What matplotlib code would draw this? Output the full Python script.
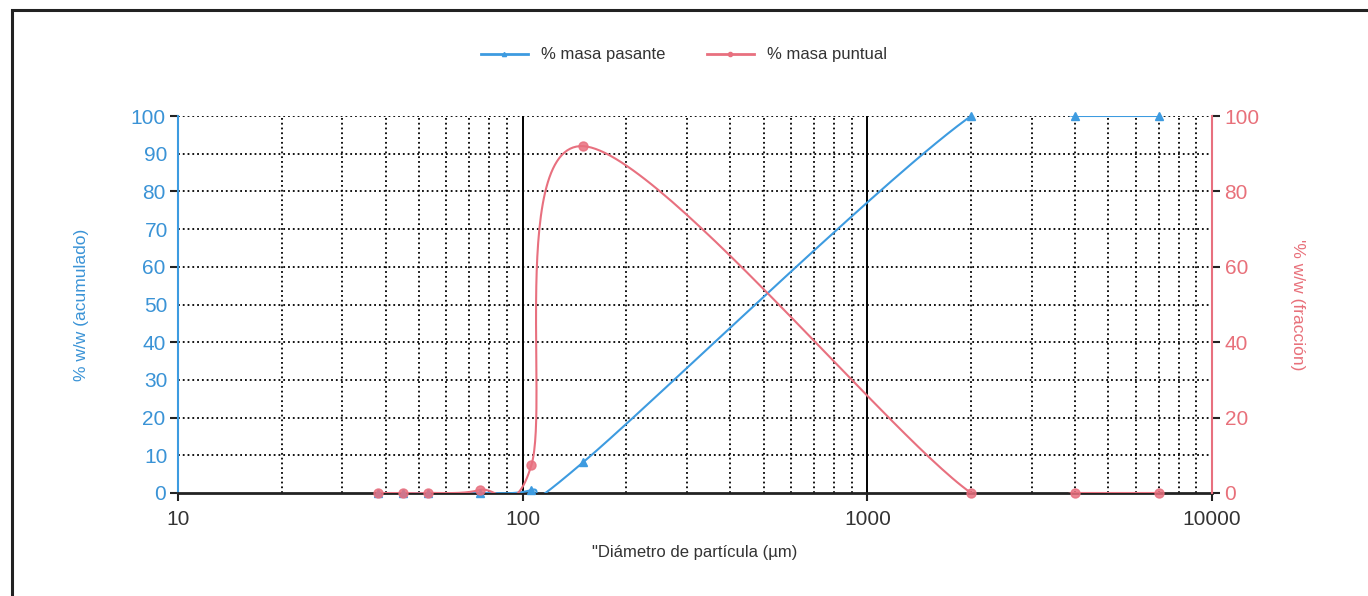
import numpy as np
import matplotlib
matplotlib.use('Agg')
import matplotlib.pyplot as plt
from matplotlib.lines import Line2D
from matplotlib.patches import Rectangle
from matplotlib.ticker import NullFormatter, FixedLocator

plt.rcParams['font.family'] = ['Liberation Sans', 'DejaVu Sans']

# sieve sizes (um) and results
sizes = [38, 45, 53, 75, 106, 150, 2000, 4000, 7000]
pasante = [0, 0, 0, 0, 0.8, 8.2, 100, 100, 100]
puntual = [0, 0, 0, 0.8, 7.4, 92, 0, 0, 0]

blue = '#3d9be0'
pink = '#e8707f'
blue_txt = '#3a93d6'
pink_txt = '#e8707a'


def smooth(xs, ys, n=60):
    # excel-like smoothed line: bezier segments, control points from neighbours
    lx = np.log10(xs)
    y = np.asarray(ys, float)
    px = np.concatenate([[lx[0]], lx, [lx[-1]]])
    py = np.concatenate([[y[0]], y, [y[-1]]])
    outx, outy = [], []
    t = np.linspace(0, 1, n)
    for i in range(1, len(px) - 2):
        x0, y0 = px[i], py[i]
        x3, y3 = px[i + 1], py[i + 1]
        x1 = x0 + (px[i + 1] - px[i - 1]) / 6
        y1 = y0 + (py[i + 1] - py[i - 1]) / 6
        x2 = x3 - (px[i + 2] - px[i]) / 6
        y2 = y3 - (py[i + 2] - py[i]) / 6
        bx = (1-t)**3*x0 + 3*(1-t)**2*t*x1 + 3*(1-t)*t**2*x2 + t**3*x3
        by = (1-t)**3*y0 + 3*(1-t)**2*t*y1 + 3*(1-t)*t**2*y2 + t**3*y3
        outx.extend(bx)
        outy.extend(by)
    return 10**np.array(outx), np.array(outy)


fig = plt.figure(figsize=(13.68, 5.96), dpi=100)
# outer frame (bottom and right run off the picture)
fig.patches.append(Rectangle((12/1368, -0.1), 1.2, 1.1 - 10/596,
                             transform=fig.transFigure, fill=False, ec='#222222', lw=2.2))

ax = fig.add_axes([178/1368, 1 - 493/596, (1212 - 178)/1368, (493 - 116)/596])
ax2 = ax.twinx()

ax.set_xscale('log')
ax.set_xlim(10, 10000)
ax.set_ylim(0, 100)
ax2.set_ylim(0, 100)

# grid
ax.xaxis.set_minor_locator(FixedLocator([m*10**d for d in range(1, 4) for m in range(2, 10)]))
ax.xaxis.set_minor_formatter(NullFormatter())
ax.grid(which='minor', axis='x', color='black', ls=':', lw=1.3)
for v in [100, 1000]:
    ax.axvline(v, color='black', lw=1.4, zorder=1)
for v in range(10, 101, 10):
    ax.axhline(v, color='black', ls=':', lw=1.3, zorder=1)

# spines
ax.spines['top'].set_visible(False)
ax2.spines['top'].set_visible(False)
ax.spines['bottom'].set_color('#222222')
ax.spines['bottom'].set_linewidth(2)
ax2.spines['bottom'].set_visible(False)
ax.spines['left'].set_color(blue)
ax.spines['left'].set_linewidth(1.5)
ax.spines['right'].set_visible(False)
ax2.spines['left'].set_visible(False)
ax2.spines['right'].set_color(pink)
ax2.spines['right'].set_linewidth(1.5)

# ticks
ax.set_xticks([10, 100, 1000, 10000])
ax.set_xticklabels(['10', '100', '1000', '10000'])
ax.tick_params(axis='x', which='major', length=6, width=1.5, color='#222222',
               labelsize=15, labelcolor='#333333', pad=6)
ax.tick_params(axis='x', which='minor', length=0)

ax.set_yticks([0, 20, 40, 60, 80, 100])
ax.set_yticks([10, 30, 50, 70, 90], minor=True)
ax.set_yticklabels(['0', '20', '40', '60', '80', '100'])
ax.set_yticklabels(['10', '30', '50', '70', '90'], minor=True)
ax.tick_params(axis='y', which='major', length=6, width=1.5, color='#222222',
               labelsize=15, labelcolor=blue_txt, pad=3)
ax.tick_params(axis='y', which='minor', length=0, labelsize=15,
               labelcolor=blue_txt, pad=3 + 6*0.72)

ax2.set_yticks([0, 20, 40, 60, 80, 100])
ax2.tick_params(axis='y', length=6, width=1.5, color='#222222',
                labelsize=15, labelcolor=pink_txt, pad=3)

# curves
bx, by = smooth(sizes, pasante)
px, py = smooth(sizes, puntual)
ax2.plot(bx, by, color=blue, lw=1.5, zorder=3)
ax2.plot(sizes, pasante, ls='none', marker='^', ms=6, color=blue, clip_on=False, zorder=4)
ax2.plot(px, py, color=pink, lw=1.5, zorder=3)
ax2.plot(sizes, puntual, ls='none', marker='o', ms=6.5, color=pink, alpha=0.85,
         clip_on=False, zorder=5)

# labels
ax.set_xlabel('"Diámetro de partícula (µm)', fontsize=12, color='#333333', labelpad=12)
ax.set_ylabel('% w/w (acumulado)', fontsize=12.5, color=blue_txt, labelpad=30)
ax2.set_ylabel("'% w/w (fracción)", fontsize=12.5, color=pink_txt, rotation=270, labelpad=33)

handles = [Line2D([], [], color=blue, lw=2, marker='^', ms=3),
           Line2D([], [], color=pink, lw=2, marker='o', ms=3)]
fig.legend(handles, ['% masa pasante', '% masa puntual'], loc='center',
           bbox_to_anchor=(0.5, 1 - 55/596), ncol=2, frameon=False, fontsize=12,
           handlelength=2.8, columnspacing=2.5, labelcolor='#333333')

fig.savefig('out.png', dpi=100)
